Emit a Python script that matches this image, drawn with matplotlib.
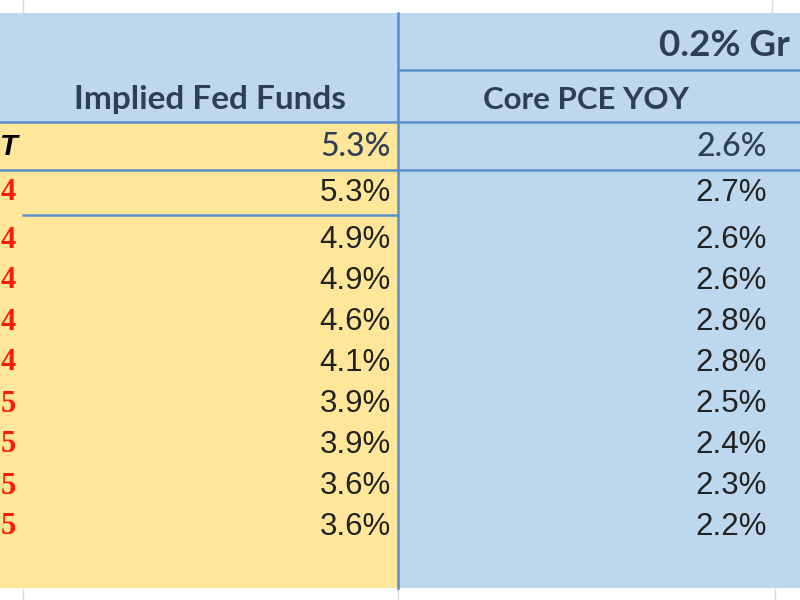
import matplotlib
matplotlib.use("Agg")
import matplotlib.pyplot as plt
from matplotlib.patches import Rectangle

# ---- data ----
row_labels = ["T", "4", "4", "4", "4", "4", "5", "5", "5", "5"]
fed_funds = ["5.3%", "5.3%", "4.9%", "4.9%", "4.6%", "4.1%", "3.9%", "3.9%", "3.6%", "3.6%"]
core_pce = ["2.6%", "2.7%", "2.6%", "2.6%", "2.8%", "2.8%", "2.5%", "2.4%", "2.3%", "2.2%"]
group_header = "0.2% Gr"
col_headers = ["Implied Fed Funds", "Core PCE YOY"]

# ---- layout (pixel coords) ----
row_y = [147, 193, 240, 281, 322, 363, 404, 445, 486, 527]

BLUE = "#BDD7EE"
YELLOW = "#FFE699"
LINE = "#5B8FCB"
HEAD = "#2E3E56"
GRID = "#D9D9D9"
CAL = "Lato"

fig = plt.figure(figsize=(8, 6), dpi=100)
ax = fig.add_axes([0, 0, 1, 1])
ax.set_xlim(0, 800)
ax.set_ylim(600, 0)
ax.axis("off")

# white background with faint gridlines
for x in (23, 772):
    ax.plot([x, x], [0, 13], color=GRID, lw=1)
for x in (23, 398, 775):
    ax.plot([x, x], [589, 600], color=GRID, lw=1)

# fills
ax.add_patch(Rectangle((0, 13), 800, 109, facecolor=BLUE, edgecolor="none"))
ax.add_patch(Rectangle((0, 122), 398, 466, facecolor=YELLOW, edgecolor="none"))
ax.add_patch(Rectangle((398, 122), 402, 466, facecolor=BLUE, edgecolor="none"))

# border lines
ax.plot([398, 398], [13, 588], color=LINE, lw=1.8)
ax.plot([398, 800], [70, 70], color=LINE, lw=1.8)
ax.plot([0, 800], [122, 122], color=LINE, lw=1.8)
ax.plot([0, 800], [170, 170], color=LINE, lw=1.8)
ax.plot([23, 398], [215, 215], color=LINE, lw=1.8)

# headers
ax.text(659, 46, group_header, ha="left", va="center", fontsize=26.5,
        fontweight="bold", color=HEAD, family=CAL)
ax.text(210, 100, col_headers[0], ha="center", va="center", fontsize=24,
        fontweight="bold", color=HEAD, family=CAL)
ax.text(586, 100, col_headers[1], ha="center", va="center", fontsize=22.5,
        fontweight="bold", color=HEAD, family=CAL)

# rows
for i, (lab, ff, pce) in enumerate(zip(row_labels, fed_funds, core_pce)):
    y = row_y[i]
    if i == 0:
        ax.text(0, y, lab, ha="left", va="center", fontsize=21, fontweight="bold",
                style="italic", color="black", family="Liberation Sans")
        ax.text(391, y, ff, ha="right", va="center", fontsize=23, fontweight="medium",
                color=HEAD, family=CAL)
        ax.text(767, y, pce, ha="right", va="center", fontsize=23, fontweight="medium",
                color=HEAD, family=CAL)
    else:
        ax.text(16, y, lab, ha="right", va="center", fontsize=22, fontweight="bold",
                color="#FF1A0A", family="Liberation Serif")
        ax.text(391, y, ff, ha="right", va="center", fontsize=22.5, color="#222222",
                family="Liberation Sans")
        ax.text(767, y, pce, ha="right", va="center", fontsize=22.5, color="#222222",
                family="Liberation Sans")

fig.savefig("out.png", dpi=100)
